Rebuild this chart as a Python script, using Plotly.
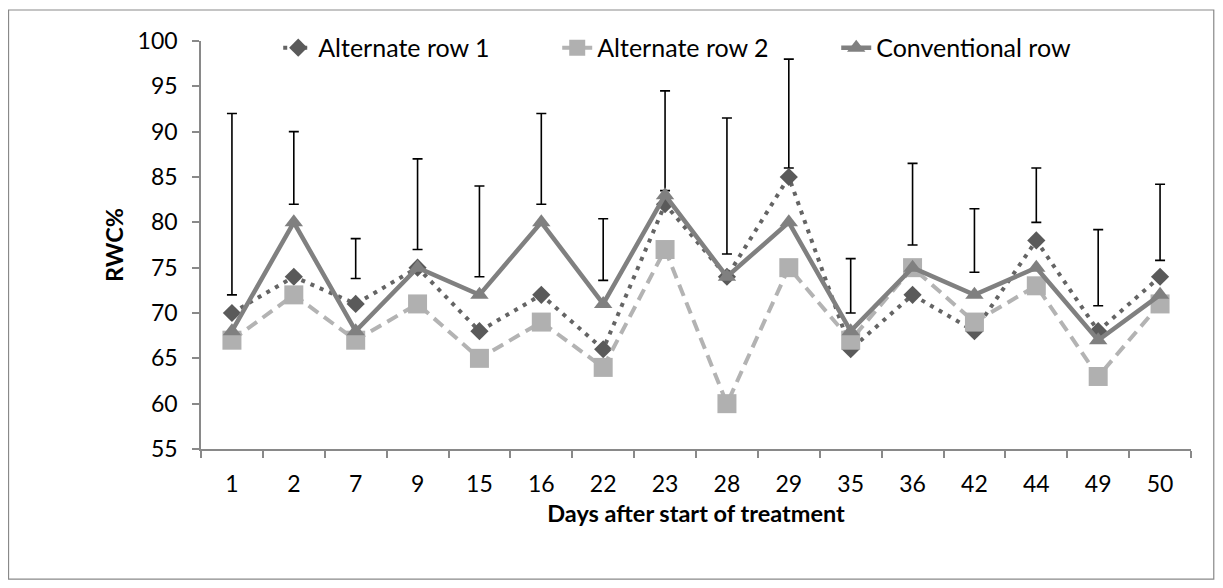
import plotly.graph_objects as go

days = ["1", "2", "7", "9", "15", "16", "22", "23", "28", "29", "35", "36", "42", "44", "49", "50"]
alt_row_1 = [70, 74, 71, 75, 68, 72, 66, 82, 74, 85, 66, 72, 68, 78, 68, 74]
alt_row_2 = [67, 72, 67, 71, 65, 69, 64, 77, 60, 75, 67, 75, 69, 73, 63, 71]
conventional = [68, 80, 68, 75, 72, 80, 71, 83, 74, 80, 68, 75, 72, 75, 67, 72]
bar_low = [72, 82, 73.8, 77, 74, 82, 73.6, 83.5, 76.5, 86, 70, 77.5, 74.5, 80, 70.8, 75.8]
bar_high = [92, 90, 78.2, 87, 84, 92, 80.4, 94.5, 91.5, 98, 76, 86.5, 81.5, 86, 79.2, 84.2]
y_ticks = [55, 60, 65, 70, 75, 80, 85, 90, 95, 100]

FONT = "Lato, 'Open Sans', sans-serif"
AXIS = "#898989"

bar_mid = [(lo + hi) / 2 for lo, hi in zip(bar_low, bar_high)]
bar_half = [(hi - lo) / 2 for lo, hi in zip(bar_low, bar_high)]

fig = go.Figure()
fig.add_trace(go.Scatter(
    x=days, y=bar_mid, mode="markers", showlegend=False, hoverinfo="skip",
    marker=dict(color="rgba(0,0,0,0)", size=1),
    error_y=dict(type="data", array=bar_half, symmetric=True, color="black", thickness=1.6, width=5),
))
fig.add_trace(go.Scatter(
    x=days, y=alt_row_1, name="Alternate row 1", mode="lines+markers",
    line=dict(color="#646464", width=4, dash="4px,6px"),
    marker=dict(symbol="diamond", size=14, color="#5a5a5a"),
))
fig.add_trace(go.Scatter(
    x=days, y=alt_row_2, name="Alternate row 2", mode="lines+markers",
    line=dict(color="#b3b3b3", width=4, dash="12px,7px"),
    marker=dict(symbol="square", size=19, color="#b0b0b0"),
))
fig.add_trace(go.Scatter(
    x=days, y=conventional, name="Conventional row", mode="lines+markers",
    line=dict(color="#808080", width=4.5),
    marker=dict(symbol="triangle-up", size=16, color="#808080"),
))

fig.update_layout(
    width=1215, height=580,
    margin=dict(l=193, r=32, t=33, b=139),
    paper_bgcolor="white", plot_bgcolor="white",
    font=dict(family=FONT, size=23, color="black"),
    legend=dict(
        orientation="h", x=0.078, xanchor="left", y=0.983, yanchor="middle",
        bgcolor="rgba(0,0,0,0)", font=dict(size=25),
        entrywidth=234, entrywidthmode="pixels",
    ),
    xaxis=dict(
        type="category", range=[-0.5, 15.5], tickson="boundaries",
        showline=True, linecolor=AXIS, linewidth=1.5,
        ticks="outside", ticklen=7, tickcolor=AXIS, tickwidth=1.5,
        showgrid=False, zeroline=False, ticklabelstandoff=14,
        tickfont=dict(size=23),
        title=dict(text="<b>Days after start of treatment</b>", font=dict(size=23.5), standoff=9),
    ),
    yaxis=dict(
        range=[55, 100], tickvals=y_ticks,
        showline=True, linecolor=AXIS, linewidth=1.5,
        ticks="outside", ticklen=7, tickcolor=AXIS, tickwidth=1.5,
        showgrid=False, zeroline=False, ticklabelstandoff=10,
        tickfont=dict(size=23),
        title=dict(text="<b>RWC%</b>", font=dict(size=23.5), standoff=7),
    ),
    shapes=[dict(
        type="rect", xref="paper", yref="paper",
        x0=-0.1944, x1=1.023, y0=-0.319, y1=1.076,
        line=dict(color=AXIS, width=1.2), fillcolor="rgba(0,0,0,0)", layer="below",
    )],
)

fig.write_html("out.html")
